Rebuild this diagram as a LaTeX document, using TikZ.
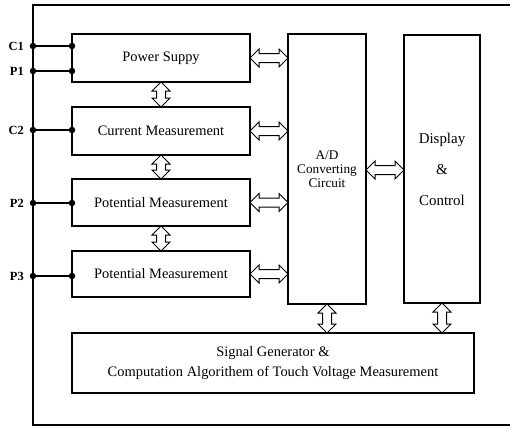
\documentclass[tikz,border=0pt]{standalone}
\usepackage{fontspec}
\setmainfont{Liberation Serif}
\usetikzlibrary{shapes.arrows,calc}
\begin{document}
\begin{tikzpicture}[x=1bp,y=-1bp,
  box/.style={draw, line width=1.2bp, inner sep=0pt, align=center, font=\fontsize{14.5}{17}\selectfont},
  darrow/.style={double arrow, draw, line width=1bp, fill=white, inner xsep=0pt, inner ysep=4bp,
                 text height=0pt, text depth=0pt, double arrow head extend=4.5bp},
  term/.style={circle, fill=black, inner sep=0pt, minimum size=6.5bp},
  lab/.style={anchor=east, inner sep=0pt, font=\bfseries\fontsize{12.5}{14}\selectfont},
  wire/.style={line width=1.2bp}]
\useasboundingbox (0,0) rectangle (511,426);
% outer frame
\coordinate (ftr) at (510,5);
\coordinate (ftl) at (33,5);
\coordinate (fbl) at (33,425);
\coordinate (fbr) at (510,425);
\draw[wire] (ftr) -- (ftl) -- (fbl) -- (fbr);
% boxes
\node[box, minimum width=178bp, minimum height=48bp] (ps) at (161,58) {Power Suppy};
\node[box, minimum width=178bp, minimum height=48bp] (cm) at (161,131) {Current Measurement};
\node[box, minimum width=178bp, minimum height=47bp] (pm1) at (161,202.5) {Potential Measurement};
\node[box, minimum width=178bp, minimum height=46bp] (pm2) at (161,274) {Potential Measurement};
\node[box, minimum width=402bp, minimum height=60bp, font=\fontsize{14.5}{20}\selectfont] (sg) at (273,363)
  {Signal Generator \&\\Computation Algorithem of Touch Voltage Measurement};
\node[box, minimum width=78bp, minimum height=270bp, font=\fontsize{13.3}{13.8}\selectfont] (ad) at (327,169)
  {A/D\\Converting\\Circuit};
\node[box, minimum width=76bp, minimum height=268bp, font=\fontsize{15}{17}\selectfont] (dc) at (442,169)
  {Display\\[14bp]\&\\[14bp]Control};
% terminals
\foreach \n/\t/\yy/\b in {c1/C1/46/ps, p1/P1/71/ps, c2/C2/130/cm, p2/P2/203/pm1, p3/P3/276/pm2}{
  \node[term] (\n o) at (33,\yy) {};
  \node[term] (\n i) at (72,\yy) {};
  \draw[wire] (\n o) -- (\n i);
  \node[lab] (\n l) at (24,\yy) {\t};
}
% horizontal double arrows to A/D
\foreach \b in {ps,cm,pm1,pm2}{
  \node[darrow, minimum height=38bp] (\b a) at ($(\b.east)!0.5!(ad.west |- \b.east)$) {};
}
\node[darrow, minimum height=38bp] (adc) at ($(ad.east |- 0,170)!0.5!(dc.west |- 0,170)$) {};
% vertical double arrows
\node[darrow, rotate=90, minimum height=25bp] (v1) at ($(ps.south)!0.5!(cm.north)$) {};
\node[darrow, rotate=90, minimum height=24bp] (v2) at ($(cm.south)!0.5!(pm1.north)$) {};
\node[darrow, rotate=90, minimum height=25bp] (v3) at ($(pm1.south)!0.5!(pm2.north)$) {};
\node[darrow, rotate=90, minimum height=29bp] (v4) at ($(ad.south)!0.5!(ad.south |- sg.north)$) {};
\node[darrow, rotate=90, minimum height=30bp] (v5) at ($(dc.south)!0.5!(dc.south |- sg.north)$) {};
\end{tikzpicture}
\end{document}
